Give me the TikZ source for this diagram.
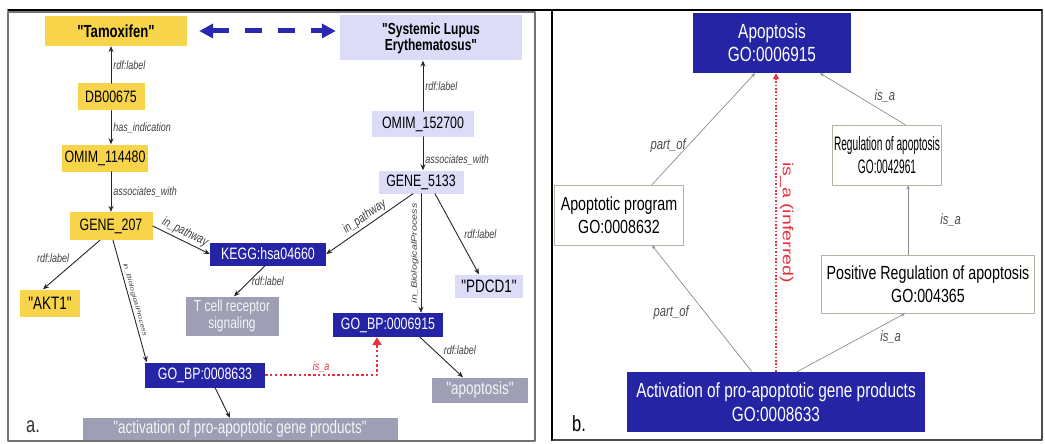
\documentclass[tikz,border=0pt]{standalone}
\usepackage{fontspec}
\setmainfont{Liberation Sans}
\newfontfamily\figfont{Liberation Sans}[FakeStretch=0.75]
\newfontfamily\narrowfont{Liberation Sans}[FakeStretch=0.52]
\newfontfamily\widefont{Liberation Sans}[FakeStretch=1.35]
\usetikzlibrary{arrows.meta}
\definecolor{gold}{RGB}{248,212,74}
\definecolor{lav}{RGB}{220,220,248}
\definecolor{goblue}{RGB}{36,36,164}
\definecolor{litgray}{RGB}{158,158,180}
\definecolor{edgegray}{RGB}{140,140,140}
\definecolor{frameolive}{RGB}{180,180,165}
\definecolor{isared}{RGB}{232,48,60}
\definecolor{arrblue}{RGB}{40,40,176}
\begin{document}
\begin{tikzpicture}[x=1pt,y=-1pt,line join=round,line cap=round,>=stealth,
  wh/.style 2 args={minimum width=#1pt,minimum height=#2pt},
  box/.style={inner sep=0pt,align=center,font=\figfont\fontsize{16.5}{18}\selectfont},
  ybox/.style={box,fill=gold},
  lbox/.style={box,fill=lav},
  bbox/.style={box,fill=goblue,text=white},
  gbox/.style={box,fill=litgray,text=white!90!litgray,font=\figfont\fontsize{17}{18}\selectfont},
  wbox/.style={box,draw=frameolive,fill=white,line width=.8pt,font=\figfont\fontsize{19}{23}\selectfont},
  rel/.style={-{Stealth[length=6pt,width=5pt]},line width=.9pt,black!85},
  grel/.style={-{Stealth[length=4pt,width=3.5pt]},line width=.7pt,edgegray},
  lab/.style={font=\figfont\itshape\fontsize{12}{13}\selectfont,text=black!75,inner sep=2pt},
  glab/.style={font=\figfont\itshape\fontsize{15}{16}\selectfont,text=black!70,inner sep=2pt},
  isa/.style={-{Triangle[length=8pt,width=9pt]},isared,line width=2.4pt,dash pattern=on 2.4pt off 2.4pt,line cap=butt},
  bigarrow/.style={{Triangle[length=14pt,width=14pt]}-{Triangle[length=14pt,width=14pt]},arrblue,line width=5pt,dash pattern=on 17pt off 16pt,line cap=butt}]
\useasboundingbox (0,0) rectangle (1045,444);
% panel frames
\draw[black!55,line width=1.6pt] (8,12) rectangle (535,441);
\draw[black!70,line width=1.4pt] (552,10) rectangle (1042,440);
\draw[line width=1.6pt] (8,10) -- (1042,10);
\draw[line width=2pt] (552,10) -- (552,440);

% a. linked data graph
\node[ybox,wh={142}{30},font=\figfont\bfseries\fontsize{17.5}{18}\selectfont] (tam) at (116,31) {"Tamoxifen"};
\node[lbox,wh={182}{45},font=\figfont\bfseries\fontsize{16}{16}\selectfont] (sle) at (431,38) {"Systemic Lupus\\Erythematosus"};
\node[ybox,wh={67}{27}] (db) at (111,97) {DB00675};
\node[ybox,wh={86}{27}] (omimA) at (105,158) {OMIM\_114480};
\node[ybox,wh={83}{28}] (geneA) at (111,226) {GENE\_207};
\node[ybox,wh={60}{27},font=\figfont\fontsize{18}{18}\selectfont] (akt) at (50,303) {"AKT1"};
\node[bbox,wh={116}{23}] (kegg) at (268,254) {KEGG:hsa04660};
\node[gbox,wh={93}{39},font=\figfont\fontsize{16}{17}\selectfont] (tcell) at (232,316) {T cell receptor\\signaling};
\node[lbox,wh={102}{25}] (omimB) at (423,124) {OMIM\_152700};
\node[lbox,wh={85}{23}] (geneB) at (421,182) {GENE\_5133};
\node[bbox,wh={110}{24}] (goB) at (388,325) {GO\_BP:0006915};
\node[lbox,wh={68}{23},font=\figfont\fontsize{18}{18}\selectfont] (pdcd) at (489,286) {"PDCD1"};
\node[gbox,wh={96}{25},font=\figfont\fontsize{18}{18}\selectfont] (apop) at (480,390) {"apoptosis"};
\node[bbox,wh={120}{25}] (goA) at (205,375) {GO\_BP:0008633};
\node[gbox,wh={315}{22},font=\figfont\fontsize{18}{18}\selectfont] (actA) at (240,429) {"activation of pro-apoptotic gene products"};
\node[font=\figfont\fontsize{22}{22}\selectfont,text=black!80] (la) at (33,427) {a.};

\draw[bigarrow,shorten <=12pt,shorten >=4pt] (tam.east) -- (tam.east -| sle.west);
\draw[rel] (db) -- (db |- tam.south) node[lab,midway,right]{rdf:label};
\draw[rel] (db) -- (db |- omimA.north) node[lab,midway,right]{has\_indication};
\draw[rel] (db |- omimA.south) -- (db |- geneA.north) node[lab,midway,right]{associates\_with};
\draw[rel] ([xshift=-11pt]geneA.south) -- ([xshift=-7pt]akt.north) node[lab,midway,above left]{rdf:label};
\draw[rel] (geneA.east) -- (kegg.west) node[lab,midway,sloped,above,font=\figfont\itshape\fontsize{13}{13}\selectfont]{in\_pathway};
\draw[rel] ([xshift=2pt]geneA.south) -- ([xshift=2pt]goA.north west) node[lab,midway,sloped,above,font=\widefont\itshape\fontsize{6}{6}\selectfont]{in\_BiologicalProcess};
\draw[rel] ([xshift=-3pt]kegg.south) -- ([xshift=2pt]tcell.north) node[lab,midway,right]{rdf:label};
\draw[rel] (omimB) -- (omimB |- sle.south) node[lab,midway,right]{rdf:label};
\draw[rel] (omimB) -- (omimB |- geneB.north) node[lab,pos=.7,right]{associates\_with};
\draw[rel] ([xshift=-8pt]geneB.south) -- (kegg.east) node[lab,midway,sloped,above,font=\figfont\itshape\fontsize{13}{13}\selectfont]{in\_pathway};
\draw[rel] (geneB) -- (geneB |- goB.north) node[lab,midway,rotate=90,anchor=south,font=\widefont\itshape\fontsize{8}{8}\selectfont]{in\_BiologicalProcess};
\draw[rel] ([xshift=14pt]geneB.south) -- ([xshift=-10pt]pdcd.north) node[lab,midway,right,xshift=5pt]{rdf:label};
\draw[rel] ([xshift=32pt]goB.south) -- ([xshift=-17pt]apop.north) node[lab,midway,above right]{rdf:label};
\draw[rel] ([xshift=10pt]goA.south) -- ([xshift=-10pt]actA.north);
\draw[isa] (goA.east) -| ([xshift=-11pt]goB.south) node[lab,pos=.25,above,text=isared]{is\_a};

% b. GO hierarchy
\node[bbox,wh={158}{60},font=\figfont\fontsize{20.5}{23}\selectfont] (ap) at (772,43) {Apoptosis\\GO:0006915};
\node[wbox,wh={109}{60},font=\narrowfont\fontsize{19.5}{23}\selectfont] (reg) at (887,155) {Regulation of apoptosis\\GO:0042961};
\node[wbox,wh={129}{60}] (prog) at (619,215) {Apoptotic program\\GO:0008632};
\node[wbox,wh={213}{58}] (posreg) at (928,284) {Positive Regulation of apoptosis\\GO:004365};
\node[bbox,wh={298}{60},font=\figfont\fontsize{20.5}{24}\selectfont] (actn) at (776,402) {Activation of pro-apoptotic gene products\\GO:0008633};
\node[font=\figfont\fontsize{22}{22}\selectfont] (lb) at (579,424) {b.};

\draw[grel] ([xshift=33pt]prog.north) -- ([xshift=-17pt]ap.south) node[glab,pos=.35,left]{part\_of};
\draw[grel] ([xshift=18pt]reg.north) -- ([xshift=48pt]ap.south) node[glab,pos=.55,right=14pt]{is\_a};
\draw[grel] ([xshift=-20pt]posreg.north) -- ([xshift=21pt]reg.south) node[glab,midway,right=30pt]{is\_a};
\draw[grel] ([xshift=-24pt]actn.north) -- ([xshift=33pt]prog.south) node[glab,pos=.47,left=14pt]{part\_of};
\draw[grel] ([xshift=21pt]actn.north) -- ([xshift=-23pt]posreg.south) node[glab,pos=.75,below right]{is\_a};
\draw[isa,line width=1.6pt,dash pattern=on 1.6pt off 1.8pt,-{Triangle[length=6pt,width=6pt]}] (actn.north) -- (actn.north |- ap.south) node[midway,rotate=-90,anchor=south,text=isared,inner sep=3pt,font=\widefont\fontsize{14.5}{15}\selectfont]{is\_a (inferred)};
\end{tikzpicture}
\end{document}
